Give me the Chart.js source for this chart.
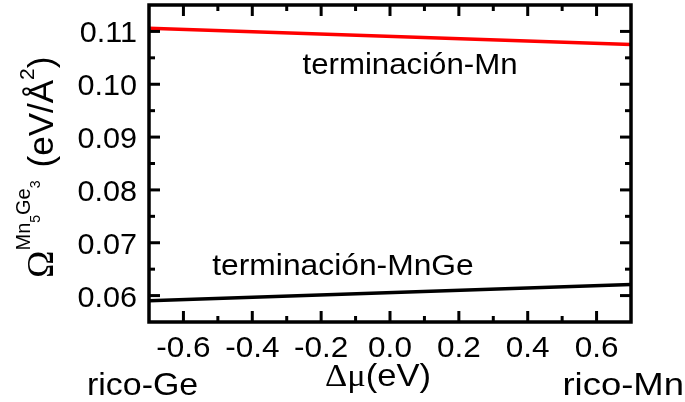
<!DOCTYPE html>
<html>
<head>
<meta charset="utf-8">
<script src="https://cdn.jsdelivr.net/npm/chart.js@4/dist/chart.umd.min.js"></script>
<style>
  html, body { margin: 0; padding: 0; background: #fff; }
  canvas { display: block; }
</style>
</head>
<body>
<canvas id="c" width="685" height="402"></canvas>
<script>
// Chemical potential difference Δμ (eV), end points of each line
const deltaMu = [-0.7, 0.7];
// Surface energy per area (eV/Å²) for each termination
const omegaMn = [0.1106, 0.1075];
const omegaMnGe = [0.0590, 0.0621];

// Axis ticks
const xTickValues = [-0.6, -0.4, -0.2, 0.0, 0.2, 0.4, 0.6];
const xTickLabels = ['-0.6', '-0.4', '-0.2', '0.0', '0.2', '0.4', '0.6'];
const xMinorValues = [-0.5, -0.3, -0.1, 0.1, 0.3, 0.5];
const yTickValues = [0.06, 0.07, 0.08, 0.09, 0.10, 0.11];
const yTickLabels = ['0.06', '0.07', '0.08', '0.09', '0.10', '0.11'];
const yMinorValues = [0.065, 0.075, 0.085, 0.095, 0.105];

const SANS = '"Liberation Sans", Arial, sans-serif';
const SERIF = '"Liberation Serif", "Times New Roman", serif';

function toPoints(xs, ys) {
  return xs.map((x, i) => ({ x: x, y: ys[i] }));
}

// draw a run of text pieces; each piece {t, font, dy}
function drawRun(ctx, pieces, x, y, align, sx) {
  sx = sx || 1.05;
  let total = 0;
  const widths = pieces.map(p => { ctx.font = p.font; const w = ctx.measureText(p.t).width; total += w; return w; });
  let cx = align === 'center' ? -total / 2 : (align === 'right' ? -total : 0);
  ctx.save();
  ctx.translate(x, y);
  ctx.scale(sx, 1);
  ctx.textAlign = 'left';
  ctx.textBaseline = 'alphabetic';
  ctx.fillStyle = '#000';
  pieces.forEach((p, i) => {
    ctx.font = p.font;
    ctx.fillText(p.t, cx, p.dy || 0);
    cx += widths[i] + (p.gap || 0);
  });
  ctx.restore();
}

const framePlugin = {
  id: 'frame',
  afterDatasetsDraw(chart) {
    const ctx = chart.ctx;
    const a = chart.chartArea;
    const xs = chart.scales.x, ys = chart.scales.y;
    ctx.save();
    ctx.strokeStyle = '#000';
    ctx.lineWidth = 3;
    ctx.lineCap = 'butt';
    // inward ticks on all four sides
    const tick = (x1, y1, x2, y2) => { ctx.beginPath(); ctx.moveTo(x1, y1); ctx.lineTo(x2, y2); ctx.stroke(); };
    xTickValues.forEach(v => {
      const px = xs.getPixelForValue(v);
      tick(px, a.bottom, px, a.bottom - 11);
      tick(px, a.top, px, a.top + 11);
    });
    xMinorValues.forEach(v => {
      const px = xs.getPixelForValue(v);
      tick(px, a.bottom, px, a.bottom - 6);
      tick(px, a.top, px, a.top + 6);
    });
    yTickValues.forEach(v => {
      const py = ys.getPixelForValue(v);
      tick(a.left, py, a.left + 11, py);
      tick(a.right, py, a.right - 11, py);
    });
    yMinorValues.forEach(v => {
      const py = ys.getPixelForValue(v);
      tick(a.left, py, a.left + 6, py);
      tick(a.right, py, a.right - 6, py);
    });
    // frame
    ctx.lineWidth = 3.5;
    ctx.lineJoin = 'miter';
    ctx.strokeRect(a.left, a.top, a.right - a.left, a.bottom - a.top);
    ctx.restore();

    const tickFont = '30px ' + SANS;
    // tick labels
    yTickValues.forEach((v, i) => {
      drawRun(ctx, [{ t: yTickLabels[i], font: tickFont }], a.left - 12, ys.getPixelForValue(v) + 11, 'right', 1.02);
    });
    xTickValues.forEach((v, i) => {
      drawRun(ctx, [{ t: xTickLabels[i], font: tickFont }], xs.getPixelForValue(v), 357, 'center', 1.05);
    });

    // curve labels
    drawRun(ctx, [{ t: 'terminación-Mn', font: '30px ' + SANS }], 410, 74, 'center', 1.04);
    drawRun(ctx, [{ t: 'terminación-MnGe', font: '30px ' + SANS }], 343, 275, 'center', 1.06);

    // x axis title and end labels
    drawRun(ctx, [
      { t: 'Δμ', font: '32px ' + SERIF },
      { t: '(eV)', font: '32px ' + SANS }
    ], 378, 386, 'center', 1.08);
    drawRun(ctx, [{ t: 'rico-Ge', font: '32px ' + SANS }], 87, 395, 'left', 1.06);
    drawRun(ctx, [{ t: 'rico-Mn', font: '32px ' + SANS }], 684, 395, 'right', 1.14);

    // y axis title, rotated
    ctx.save();
    ctx.translate(53, 278);
    ctx.rotate(-Math.PI / 2);
    ctx.fillStyle = '#000';
    ctx.textAlign = 'left';
    ctx.textBaseline = 'alphabetic';
    const parts = [
      { t: 'Ω', font: '37px ' + SERIF, dy: 0 },
      { t: 'Mn', font: '20px ' + SANS, dy: -23 },
      { t: '5', font: '14px ' + SANS, dy: -13 },
      { t: 'Ge', font: '20px ' + SANS, dy: -23 },
      { t: '3', font: '14px ' + SANS, dy: -13, gap: 13 },
      { t: '(eV/Å', font: '35px ' + SANS, dy: 0 },
      { t: '2', font: '21px ' + SANS, dy: -19 },
      { t: ')', font: '35px ' + SANS, dy: 0 }
    ];
    let cx = 0;
    parts.forEach(p => {
      ctx.font = p.font;
      ctx.fillText(p.t, cx, p.dy);
      cx += ctx.measureText(p.t).width + (p.gap || 0);
    });
    ctx.restore();
  }
};

new Chart(document.getElementById('c'), {
  type: 'line',
  data: {
    datasets: [
      {
        label: 'terminación-Mn',
        data: toPoints(deltaMu, omegaMn),
        borderColor: '#ff0000',
        borderWidth: 3.5,
        pointRadius: 0,
        tension: 0
      },
      {
        label: 'terminación-MnGe',
        data: toPoints(deltaMu, omegaMnGe),
        borderColor: '#000000',
        borderWidth: 3.5,
        pointRadius: 0,
        tension: 0
      }
    ]
  },
  options: {
    responsive: false,
    animation: false,
    layout: { padding: { left: 149, right: 54, top: 5, bottom: 80 } },
    scales: {
      x: { type: 'linear', min: -0.7, max: 0.7, display: false },
      y: { type: 'linear', min: 0.055, max: 0.115, display: false }
    },
    plugins: { legend: { display: false }, tooltip: { enabled: false } }
  },
  plugins: [framePlugin]
});
</script>
</body>
</html>
